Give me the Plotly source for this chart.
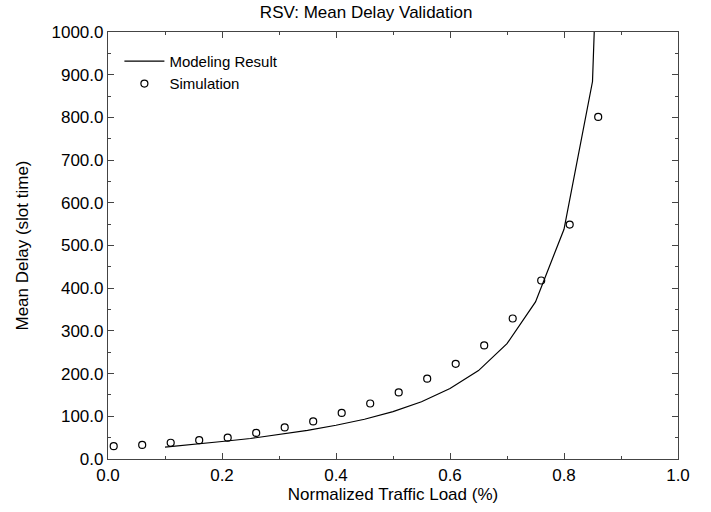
import plotly.graph_objects as go

model_x = [0.10, 0.15, 0.20, 0.25, 0.30, 0.35, 0.40, 0.45, 0.50, 0.55, 0.60, 0.65, 0.70, 0.75, 0.80, 0.85, 0.90]
model_y = [28, 34, 41, 48, 57, 67, 79, 93, 111, 134, 165, 207, 270, 368, 538, 884, 2800]

sim_x = [0.01, 0.06, 0.11, 0.16, 0.21, 0.26, 0.31, 0.36, 0.41, 0.46, 0.51, 0.56, 0.61, 0.66, 0.71, 0.76, 0.81, 0.86]
sim_y = [30, 33, 38, 44, 50, 61, 74, 88, 108, 130, 156, 188, 223, 266, 329, 418, 549, 801]

font = "Liberation Sans, Arial, Helvetica, sans-serif"

fig = go.Figure()
fig.add_trace(go.Scatter(x=model_x, y=model_y, mode="lines", name="Modeling Result",
                         line=dict(color="black", width=1.2)))
fig.add_trace(go.Scatter(x=sim_x, y=sim_y, mode="markers", name="Simulation",
                         marker=dict(symbol="circle-open", size=7, color="black",
                                     line=dict(width=1.2, color="black"))))

axis_common = dict(showline=True, linecolor="#444", linewidth=1.2, mirror="ticks",
                   ticks="inside", ticklen=6, tickcolor="#444", tickwidth=1,
                   showgrid=False, zeroline=False,
                   tickfont=dict(family=font, size=17, color="black"))

fig.update_layout(
    width=711, height=512,
    margin=dict(l=108, r=33, t=32, b=50),
    paper_bgcolor="white", plot_bgcolor="white",
    title=dict(text="RSV: Mean Delay Validation", x=0.515, xanchor="center",
               y=0.977, yanchor="middle", font=dict(family=font, size=17, color="black")),
    font=dict(family=font, size=17, color="black"),
    showlegend=True,
    legend=dict(x=0.02, y=0.97, xanchor="left", yanchor="top", bgcolor="rgba(0,0,0,0)",
                font=dict(family=font, size=15, color="black"), itemwidth=40,
                tracegroupgap=0),
    xaxis=dict(range=[0, 1.0], dtick=0.2, tickformat=".1f",
               minor=dict(dtick=0.1, ticks="inside", ticklen=3, tickcolor="#444"),
               title=dict(text="Normalized Traffic Load (%)", standoff=4,
                          font=dict(family=font, size=17, color="black")),
               **axis_common),
    yaxis=dict(range=[0, 1000], dtick=100, tickformat=".1f",
               minor=dict(dtick=50, ticks="inside", ticklen=3, tickcolor="#444"),
               title=dict(text="Mean Delay (slot time)", standoff=18,
                          font=dict(family=font, size=17, color="black")),
               **axis_common),
)

fig.write_html("out.html")
